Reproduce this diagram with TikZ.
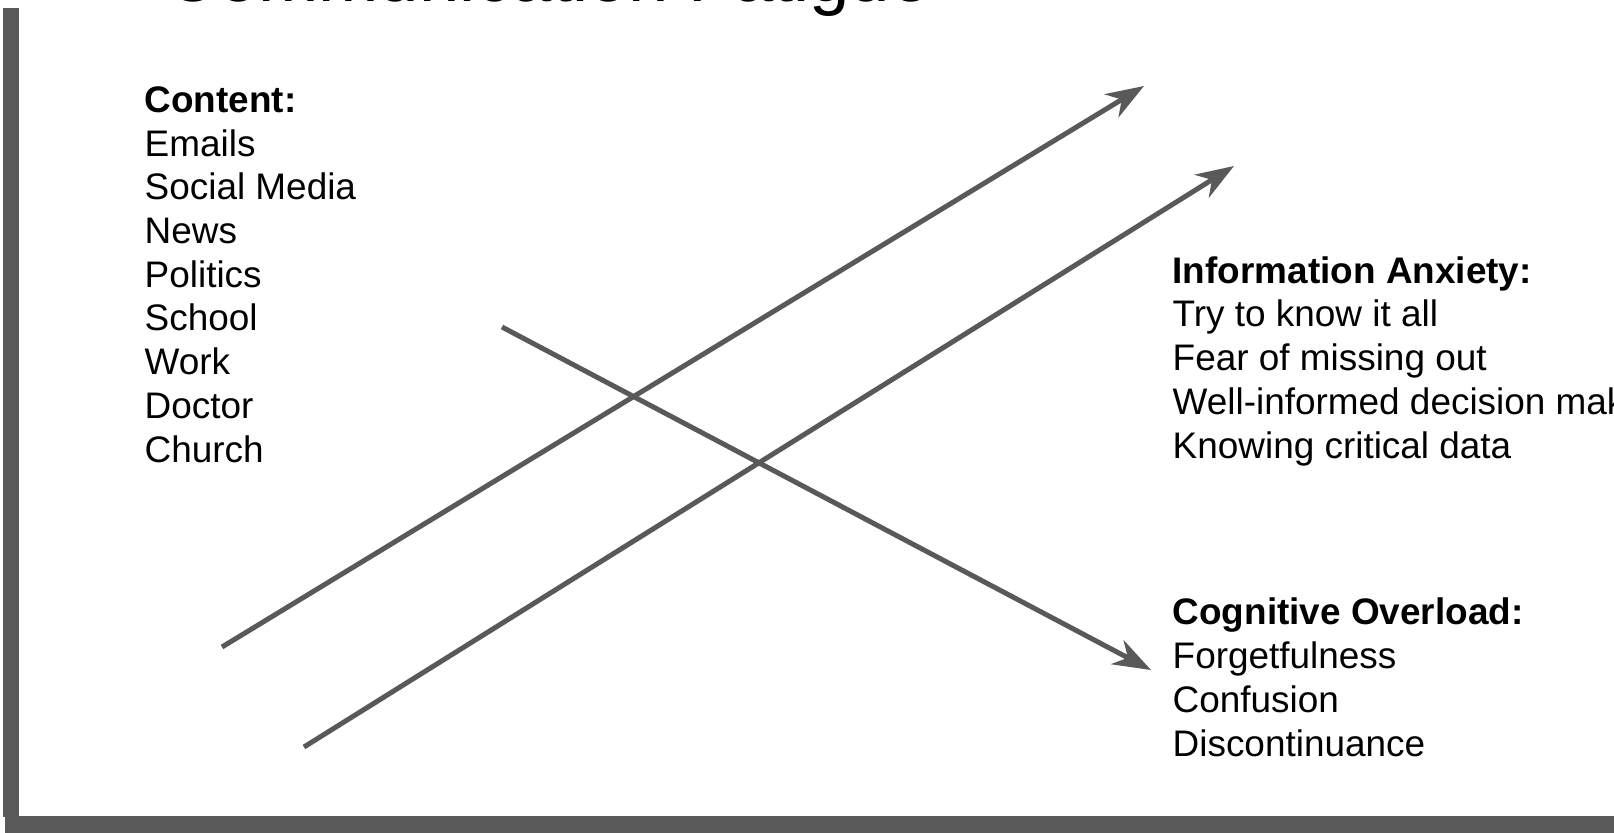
\documentclass[tikz,border=0pt]{standalone}
\usepackage{fontspec}
\setmainfont{Liberation Sans}
\usepackage{xcolor}
\usepackage{tikz}
\usetikzlibrary{positioning, arrows.meta}
\definecolor{fatigue}{HTML}{595959}

\begin{document}
\begin{tikzpicture}[
      x=0.01cm, y=-0.01cm,
      title/.style={anchor=base west, inner sep=0pt, font=\fontsize{20.6}{24}\selectfont},
      txt/.style={anchor=base west, align=left, inner sep=0pt, font=\fontsize{10.5}{12.43}\selectfont},
      arr/.style={-{Stealth[length=3.8mm, width=2.7mm, inset=1.2mm]}, line width=1.42pt, draw=fatigue},
      bar/.style={fill=fatigue, draw=none}
    ]
    \useasboundingbox (0,0) rectangle (1614,833);
    %% frame shadow
    \fill[bar] (3,8) rectangle (19,817);
    \fill[bar] (5,816) rectangle (1614,833);
    %% title (cut at the top edge)
    \node[title] (ttl) at (165,1) {Communication Fatigue};
    %% text blocks (base = last line)
    \node[txt] (content) at (144,462) {\textbf{Content:}\\Emails\\Social Media\\News\\Politics\\School\\Work\\Doctor\\Church};
    \node[txt] (anxiety) at (1172,458) {\textbf{Information Anxiety:}\\Try to know it all\\Fear of missing out\\Well-informed decision making\\Knowing critical data};
    \node[txt] (overload) at (1172,756) {\textbf{Cognitive Overload:}\\Forgetfulness\\Confusion\\Discontinuance};
    %% arrows
    \coordinate (a1s) at (222,647);
    \coordinate (a1e) at (1144,86);
    \coordinate (a2s) at (304,747);
    \coordinate (a2e) at (1234,166);
    \coordinate (a3s) at (502,327);
    \coordinate (a3e) at (1151,670);
    \draw[arr] (a1s) -- (a1e);
    \draw[arr] (a2s) -- (a2e);
    \draw[arr] (a3s) -- (a3e);
  \end{tikzpicture}
\end{document}
